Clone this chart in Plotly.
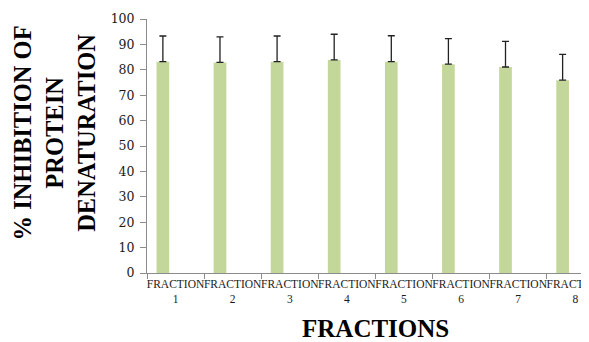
import plotly.graph_objects as go

categories = ["FRACTION<br>1", "FRACTION<br>2", "FRACTION<br>3", "FRACTION<br>4",
              "FRACTION<br>5", "FRACTION<br>6", "FRACTION<br>7", "FRACTION<br>8"]
inhibition = [83.2, 82.9, 83.2, 83.9, 83.2, 82.2, 81.1, 75.9]
error_up = [10.1, 10.1, 10.1, 10.1, 10.2, 10.1, 10.1, 10.2]
y_ticks = [0, 10, 20, 30, 40, 50, 60, 70, 80, 90, 100]

SERIF = "Liberation Serif"

fig = go.Figure()
fig.add_trace(go.Bar(
    x=categories, y=inhibition,
    width=0.222, offset=-0.333,
    marker=dict(color="#c4d79b", line=dict(width=0)),
    error_y=dict(type="data", array=error_up, arrayminus=[0] * len(error_up),
                 symmetric=False, color="#222222", thickness=1.3, width=3.5),
    showlegend=False,
))

# page body has an 8px default margin, so the figure is sized to fill the rest
fig.update_layout(
    width=581, height=334,
    margin=dict(l=139, r=0, t=11, b=69, autoexpand=False),
    paper_bgcolor="white", plot_bgcolor="white",
    font=dict(family=SERIF, color="#222222"),
    xaxis=dict(
        type="category", range=[-0.5, 7.24], automargin=False,
        showgrid=False, showline=True, linecolor="#8c8c8c", linewidth=1,
        ticks="outside", tickson="boundaries", ticklen=5, tickcolor="#8c8c8c",
        tickfont=dict(family=SERIF, size=11.5, color="#1a1a1a"),
        tickangle=0,
    ),
    yaxis=dict(
        range=[0, 100], tickvals=y_ticks, automargin=False,
        showgrid=False, showline=True, linecolor="#8c8c8c", linewidth=1,
        ticks="outside", ticklen=6, tickcolor="#8c8c8c",
        tickfont=dict(family="DejaVu Serif", size=12.5, color="#1a1a1a"),
        ticklabelstandoff=3,
        zeroline=False,
    ),
    annotations=[
        dict(
            text="<b>% INHIBITION OF<br>PROTEIN<br>DENATURATION</b>",
            xref="paper", yref="paper", x=-0.21, y=0.55,
            xanchor="center", yanchor="middle", textangle=-90, showarrow=False,
            font=dict(family=SERIF, size=24.5, color="#000000"),
        ),
        dict(
            text="<b>FRACTIONS</b>",
            xref="paper", yref="paper", x=0.516, y=-0.22,
            xanchor="center", yanchor="middle", showarrow=False,
            font=dict(family=SERIF, size=25, color="#000000"),
        ),
    ],
)

fig.write_html("out.html")
